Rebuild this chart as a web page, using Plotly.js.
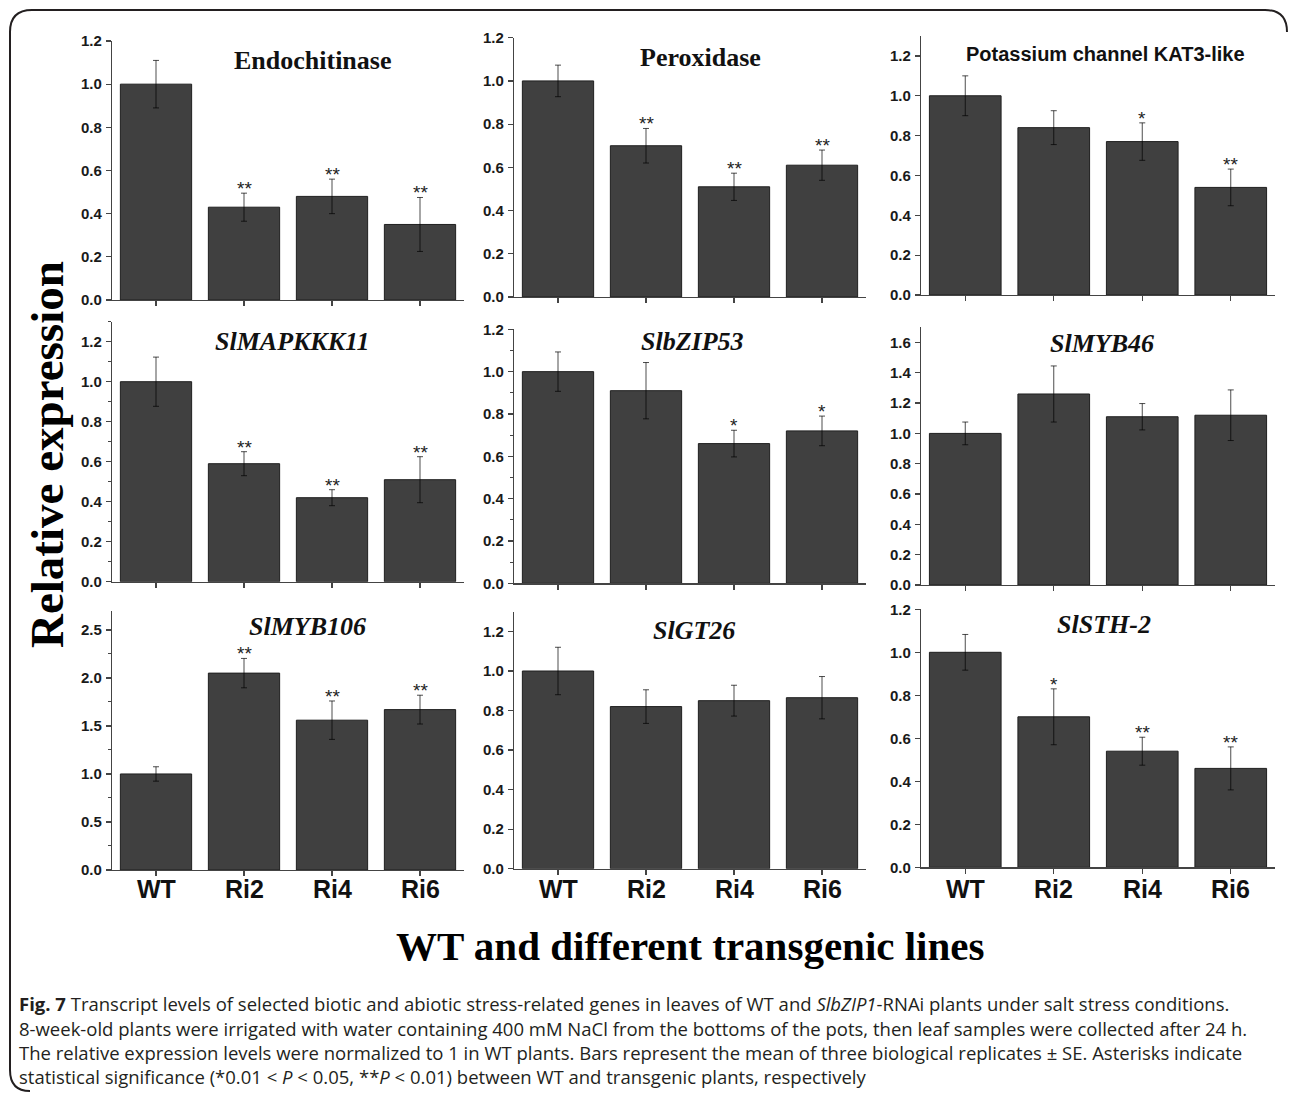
<!DOCTYPE html>
<html>
<head>
<meta charset="utf-8">
<script src="https://cdn.plot.ly/plotly-3.0.1.min.js"></script>
<style>
  html, body { margin: 0; padding: 0; background: #ffffff; }
  #chart { width: 1290px; height: 1094px; }
</style>
</head>
<body>
<div id="chart"></div>
<script>
// ---------- data ----------
const categories = ['WT', 'Ri2', 'Ri4', 'Ri6'];

const endochitinaseMean = [1.00, 0.43, 0.48, 0.35];
const endochitinaseSE   = [0.11, 0.065, 0.08, 0.125];
const endochitinaseSig  = ['', '**', '**', '**'];

const peroxidaseMean = [1.00, 0.70, 0.51, 0.61];
const peroxidaseSE   = [0.073, 0.08, 0.063, 0.07];
const peroxidaseSig  = ['', '**', '**', '**'];

const kat3Mean = [1.00, 0.84, 0.77, 0.54];
const kat3SE   = [0.10, 0.085, 0.094, 0.092];
const kat3Sig  = ['', '', '*', '**'];

const mapkkk11Mean = [1.00, 0.59, 0.42, 0.51];
const mapkkk11SE   = [0.123, 0.06, 0.04, 0.115];
const mapkkk11Sig  = ['', '**', '**', '**'];

const bzip53Mean = [1.00, 0.91, 0.66, 0.72];
const bzip53SE   = [0.093, 0.133, 0.063, 0.07];
const bzip53Sig  = ['', '', '*', '*'];

const myb46Mean = [1.00, 1.26, 1.11, 1.12];
const myb46SE   = [0.075, 0.185, 0.087, 0.167];
const myb46Sig  = ['', '', '', ''];

const myb106Mean = [1.00, 2.05, 1.56, 1.67];
const myb106SE   = [0.075, 0.153, 0.20, 0.15];
const myb106Sig  = ['', '**', '**', '**'];

const gt26Mean = [1.00, 0.82, 0.85, 0.865];
const gt26SE   = [0.12, 0.085, 0.078, 0.107];
const gt26Sig  = ['', '', '', ''];

const sth2Mean = [1.00, 0.70, 0.54, 0.46];
const sth2SE   = [0.083, 0.13, 0.065, 0.10];
const sth2Sig  = ['', '*', '**', '**'];

const panelTitles = ['Endochitinase', 'Peroxidase', 'Potassium channel KAT3-like',
  '<i>SlMAPKKK11</i>', '<i>SlbZIP53</i>', '<i>SlMYB46</i>',
  '<i>SlMYB106</i>', '<i>SlGT26</i>', '<i>SlSTH-2</i>'];

const yLabel = 'Relative expression';
const xLabel = 'WT and different transgenic lines';

// ---------- layout helpers ----------
const W = 1290, H = 1094;
const fx = px => px / W;
const fy = py => 1 - py / H;

const SERIF = 'Liberation Serif, Times New Roman, serif';
const SANS = 'Liberation Sans, Arial, sans-serif';

const means = [endochitinaseMean, peroxidaseMean, kat3Mean, mapkkk11Mean, bzip53Mean, myb46Mean, myb106Mean, gt26Mean, sth2Mean];
const ses = [endochitinaseSE, peroxidaseSE, kat3SE, mapkkk11SE, bzip53SE, myb46SE, myb106SE, gt26SE, sth2SE];
const sigs = [endochitinaseSig, peroxidaseSig, kat3Sig, mapkkk11Sig, bzip53Sig, myb46Sig, myb106Sig, gt26Sig, sth2Sig];

// panel geometry (pixels) and axis scales
const xDomPx = [[112, 464], [514, 866], [921, 1275]];
const yDomPx = [[41, 300], [37.7, 297], [36, 295],
                [321.7, 581.7], [329.3, 583.3], [327.3, 585],
                [610.7, 870], [611.7, 868.7], [609.3, 867.3]];
const yMax = [1.2, 1.2, 1.3, 1.3, 1.2, 1.7, 2.7, 1.3, 1.2];
const yDtick = [0.2, 0.2, 0.2, 0.2, 0.2, 0.2, 0.5, 0.2, 0.2];
const yMinor = [false, false, false, true, true, false, true, false, false];
// title placement: [center x px, baseline y px, font size, family]
const titlePos = [[313, 69, 26, SERIF], [700, 66, 26, SERIF], [1105, 61, 20, SANS],
                  [292, 350, 26, SERIF], [692, 350, 26, SERIF], [1102, 352, 26, SERIF],
                  [307, 635, 26, SERIF], [694, 639, 26, SERIF], [1104, 633, 26, SERIF]];

const data = [];
const layout = {
  width: W, height: H,
  margin: {l: 0, r: 0, t: 0, b: 0},
  paper_bgcolor: '#ffffff',
  plot_bgcolor: 'rgba(0,0,0,0)',
  showlegend: false,
  bargap: 0.19,
  annotations: [],
  shapes: []
};

for (let i = 0; i < 9; i++) {
  const n = i + 1;
  const xa = n === 1 ? 'x' : 'x' + n;
  const ya = n === 1 ? 'y' : 'y' + n;
  const col = i % 3, row = Math.floor(i / 3);

  data.push({
    type: 'bar',
    x: categories,
    y: means[i],
    xaxis: xa, yaxis: ya,
    marker: {color: '#404040', line: {color: '#1f1f1f', width: 1}},
    error_y: {type: 'data', array: ses[i], visible: true, color: '#000000', thickness: 0.7, width: 3},
    hoverinfo: 'skip'
  });

  layout[n === 1 ? 'xaxis' : 'xaxis' + n] = {
    domain: [fx(xDomPx[col][0]), fx(xDomPx[col][1])],
    anchor: ya,
    type: 'category',
    range: [-0.5, 3.5],
    showgrid: false, zeroline: false,
    showline: true, linecolor: '#444', linewidth: 1.2,
    ticks: 'outside', ticklen: 5, tickwidth: 1.2, tickcolor: '#444',
    showticklabels: false,
    fixedrange: true
  };

  const yax = {
    domain: [fy(yDomPx[i][1]), fy(yDomPx[i][0])],
    anchor: xa,
    range: [0, yMax[i]],
    dtick: yDtick[i], tick0: 0,
    tickformat: '.1f',
    showgrid: false, zeroline: false,
    showline: true, linecolor: '#444', linewidth: 1.2,
    ticks: 'outside', ticklen: 5, tickwidth: 1.2, tickcolor: '#444',
    tickfont: {family: SANS, size: 15, color: '#1a1a1a', weight: 700},
    ticklabelstandoff: 1,
    fixedrange: true
  };
  if (yMinor[i]) {
    yax.minor = {dtick: yDtick[i] / 2, ticks: 'outside', ticklen: 3, tickcolor: '#444', tickwidth: 1, showgrid: false};
  }
  layout[n === 1 ? 'yaxis' : 'yaxis' + n] = yax;

  // panel title
  const tp = titlePos[i];
  layout.annotations.push({
    xref: 'paper', yref: 'paper',
    x: fx(tp[0]), y: fy(tp[1] - 0.33 * tp[2]),
    xanchor: 'center', yanchor: 'middle',
    text: '<b>' + panelTitles[i] + '</b>',
    showarrow: false,
    font: {family: tp[3], size: tp[2], color: '#111'}
  });

  // significance asterisks
  for (let j = 0; j < categories.length; j++) {
    if (sigs[i][j]) {
      layout.annotations.push({
        xref: xa, yref: ya,
        x: categories[j], y: means[i][j] + ses[i][j],
        xanchor: 'center', yanchor: 'bottom', yshift: -8,
        text: sigs[i][j],
        showarrow: false,
        font: {family: SANS, size: 19, color: '#222'}
      });
    }
  }

  // category labels under the bottom row
  if (row === 2) {
    for (let j = 0; j < categories.length; j++) {
      layout.annotations.push({
        xref: xa, yref: 'paper',
        x: categories[j], y: fy(889),
        xanchor: 'center', yanchor: 'middle',
        text: '<b>' + categories[j] + '</b>',
        showarrow: false,
        font: {family: SANS, size: 25, color: '#111'}
      });
    }
  }
}

// shared axis titles
layout.annotations.push({
  xref: 'paper', yref: 'paper',
  x: fx(47), y: fy(455),
  xanchor: 'center', yanchor: 'middle',
  textangle: -90,
  text: '<b>' + yLabel + '</b>',
  showarrow: false,
  font: {family: SERIF, size: 47, color: '#000'}
});
layout.annotations.push({
  xref: 'paper', yref: 'paper',
  x: fx(690), y: fy(946),
  xanchor: 'center', yanchor: 'middle',
  text: '<b>' + xLabel + '</b>',
  showarrow: false,
  font: {family: SERIF, size: 41, color: '#000'}
});

// caption lines
const captionLines = [
  '<b>Fig. 7</b> Transcript levels of selected biotic and abiotic stress-related genes in leaves of WT and <i>SlbZIP1</i>-RNAi plants under salt stress conditions.',
  '8-week-old plants were irrigated with water containing 400 mM NaCl from the bottoms of the pots, then leaf samples were collected after 24 h.',
  'The relative expression levels were normalized to 1 in WT plants. Bars represent the mean of three biological replicates \u00b1 SE. Asterisks indicate',
  'statistical significance (*0.01 < <i>P</i> < 0.05, **<i>P</i> < 0.01) between WT and transgenic plants, respectively'
];
const captionY = [1003, 1028, 1052, 1076];
captionLines.forEach((t, k) => {
  layout.annotations.push({
    xref: 'paper', yref: 'paper',
    x: fx(17), y: fy(captionY[k]),
    xanchor: 'left', yanchor: 'middle',
    text: t,
    showarrow: false,
    font: {family: 'Open Sans, Noto Sans, sans-serif', size: 18.5, color: '#231f20'}
  });
});

// rounded figure frame (top, left, corners)
const p = (x, y) => fx(x) + ',' + fy(y);
layout.shapes.push({
  type: 'path', xref: 'paper', yref: 'paper',
  path: 'M' + p(1287, 32) + ' Q' + p(1287, 10) + ' ' + p(1265, 10) +
        ' L' + p(32, 10) + ' Q' + p(10, 10) + ' ' + p(10, 32) +
        ' L' + p(10, 1070) + ' Q' + p(10, 1091) + ' ' + p(30, 1091),
  line: {color: '#231f20', width: 2},
  fillcolor: 'rgba(0,0,0,0)'
});

Plotly.newPlot('chart', data, layout, {staticPlot: true, displayModeBar: false});
</script>
</body>
</html>
